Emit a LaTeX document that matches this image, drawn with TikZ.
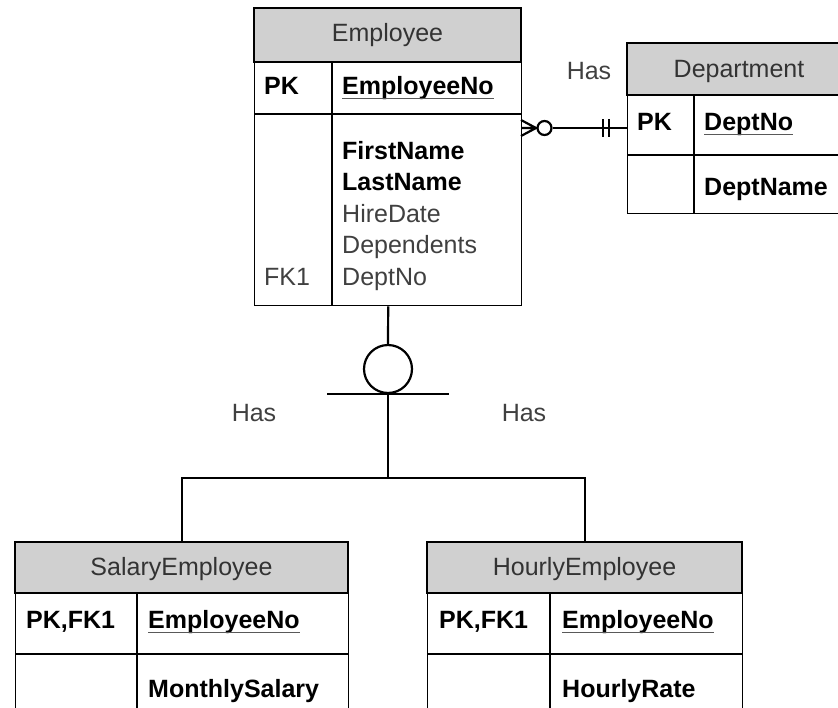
\documentclass[tikz,border=0pt]{standalone}
\usepackage{fontspec}
\setmainfont{Liberation Sans}
\usetikzlibrary{positioning}

\definecolor{hdrgray}{HTML}{D0D0D0}
\definecolor{titlegray}{HTML}{333333}
\definecolor{txtgray}{HTML}{404040}
\newcommand{\erfont}{\fontsize{25}{30}\selectfont}

\begin{document}
\begin{tikzpicture}[x=1pt, y=-1pt,
  every node/.style = {inner sep=0pt, font=\erfont},
  tbl/.style = {draw, line width=1.4pt, anchor=north west},
  hdr/.style = {draw, line width=1.4pt, fill=hdrgray},
  grid/.style = {line width=1.4pt},
  title/.style = {anchor=base, text=titlegray},
  key/.style = {anchor=base west, font=\erfont\bfseries},
  attr/.style = {anchor=base west, text=txtgray},
  ul/.style = {line width=1.2pt, black!65},
  rel/.style = {line width=2.2pt}]
\useasboundingbox (0,0) rectangle (838,707);
\clip (0,0) rectangle (838,707);

% Employee
\node[tbl, minimum width=267pt, minimum height=297pt] (emp) at (254,8) {};
\draw[hdr] (254,8) rectangle (521,62);
\draw[grid] (254,114) -- (521,114) (332,62) -- (332,305);
\node[title] (empt) at (387.5,41) {Employee};
\node[key] (emppk) at (264,94) {PK};
\node[key] (empno) at (342,94) {EmployeeNo};
\draw[ul] ([yshift=-4.5pt]empno.base west) -- ([yshift=-4.5pt]empno.base east);
\node[key] (empfn) at (342,159) {FirstName};
\node[key] (empln) at (342,190) {LastName};
\node[attr] (emphd) at (342,222) {HireDate};
\node[attr] (empdp) at (342,253) {Dependents};
\node[attr] (empfk) at (264,285) {FK1};
\node[attr] (empdn) at (342,285) {DeptNo};

% Department
\node[tbl, minimum width=224pt, minimum height=170pt] (dept) at (627,43) {};
\draw[hdr] (627,43) rectangle (851,95);
\draw[grid] (627,155) -- (851,155) (694,95) -- (694,213);
\node[title] (deptt) at (739,77) {Department};
\node[key] (deptpk) at (637,130) {PK};
\node[key] (deptno) at (704,130) {DeptNo};
\draw[ul] ([yshift=-4.5pt]deptno.base west) -- ([yshift=-4.5pt]deptno.base east);
\node[key] (deptnm) at (704,195) {DeptName};

% SalaryEmployee
\node[tbl, minimum width=333pt, minimum height=220pt] (sal) at (15,542) {};
\draw[hdr] (15,542) rectangle (348,593);
\draw[grid] (15,654) -- (348,654) (137,593) -- (137,762);
\node[title] (salt) at (181.5,575) {SalaryEmployee};
\node[key] (salpk) at (26,628) {PK,FK1};
\node[key] (salno) at (148,628) {EmployeeNo};
\draw[ul] ([yshift=-4.5pt]salno.base west) -- ([yshift=-4.5pt]salno.base east);
\node[key] (salms) at (148,697) {MonthlySalary};

% HourlyEmployee
\node[tbl, minimum width=315pt, minimum height=220pt] (hrly) at (427,542) {};
\draw[hdr] (427,542) rectangle (742,593);
\draw[grid] (427,654) -- (742,654) (550,593) -- (550,762);
\node[title] (hrlyt) at (584.5,575) {HourlyEmployee};
\node[key] (hrlypk) at (439,628) {PK,FK1};
\node[key] (hrlyno) at (562,628) {EmployeeNo};
\draw[ul] ([yshift=-4.5pt]hrlyno.base west) -- ([yshift=-4.5pt]hrlyno.base east);
\node[key] (hrlyrt) at (562,697) {HourlyRate};

% Employee - Department
\coordinate (crow) at (536,128);
\draw[rel] (521,120) -- (crow) -- (521,136) (521,128) -- (crow);
\node[circle, draw, line width=2.2pt, minimum size=14pt] (opt) at (544.5,128) {};
\draw[rel] (opt.east) -- (opt.east -| dept.west);
\draw[rel] (603,119) -- (603,137) (609,119) -- (609,137);
\node[attr, anchor=base] (hasd) at (589,79) {Has};

% subtypes
\node[circle, draw, line width=2.2pt, minimum size=48pt] (isa) at (388,369) {};
\coordinate (split) at (388,478);
\draw[rel] (emp.south) -- (isa.north);
\draw[rel] ([xshift=-61pt]isa.south) -- ([xshift=61pt]isa.south);
\draw[rel] (isa.south) -- (split);
\draw[rel] (sal.north) |- (split) -| (hrly.north);
\node[attr, anchor=base] (hassal) at (254,421) {Has};
\node[attr, anchor=base] (hashr) at (524,421) {Has};
\end{tikzpicture}
\end{document}
